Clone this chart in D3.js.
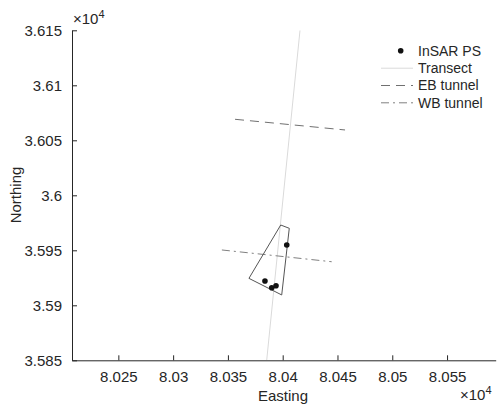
<!DOCTYPE html>
<html><head><meta charset="utf-8">
<script src="https://cdn.jsdelivr.net/npm/d3@7"></script>
<style>body{margin:0;background:#fff;} text{font-family:"Liberation Sans",Arial,sans-serif;fill:#262626;}</style>
</head><body><svg id="c" width="498" height="405"></svg>
<script>
const xTicks = [80250, 80300, 80350, 80400, 80450, 80500, 80550];
const xTickLabels = ["8.025","8.03","8.035","8.04","8.045","8.05","8.055"];
const yTicks = [35850, 35900, 35950, 36000, 36050, 36100, 36150];
const yTickLabels = ["3.585","3.59","3.595","3.6","3.605","3.61","3.615"];
const psE = [80403.7, 80383.8, 80390.0, 80393.9];
const psN = [35954.8, 35922.1, 35916.0, 35917.8];
const transectE = [80385.4, 80415.8];
const transectN = [35850, 36150];
const ebE = [80356.5, 80456.9];
const ebN = [36069.1, 36059.4];
const wbE = [80344.5, 80444.7];
const wbN = [35950.3, 35939.6];
const polyE = [80398.2, 80406.0, 80399.1, 80369.2, 80398.2];
const polyN = [35973.0, 35970.0, 35909.4, 35924.5, 35973.0];
const legendLabels = ["InSAR PS","Transect","EB tunnel","WB tunnel"];

const svg = d3.select("#c");
const x = d3.scaleLinear().domain([80207.7, 80594.4]).range([72, 495.7]);
const y = d3.scaleLinear().domain([35850, 36150]).range([360.3, 30.3]);

svg.append("defs").append("clipPath").attr("id","clip").append("rect")
  .attr("x",72).attr("y",30.3).attr("width",423.7).attr("height",330);
const g = svg.append("g").attr("clip-path","url(#clip)");
const line = d3.line().x(d=>x(d[0])).y(d=>y(d[1]));
const ebDash = "9,6", wbDash = "8,4,2,4";

g.append("path").datum(d3.zip(transectE, transectN)).attr("d", line)
  .attr("fill","none").attr("stroke","#dadada").attr("stroke-width",1);
g.append("path").datum(d3.zip(ebE, ebN)).attr("d", line)
  .attr("fill","none").attr("stroke","#707070").attr("stroke-width",1).attr("stroke-dasharray",ebDash);
g.append("path").datum(d3.zip(wbE, wbN)).attr("d", line)
  .attr("fill","none").attr("stroke","#808080").attr("stroke-width",1).attr("stroke-dasharray",wbDash);
g.append("path").datum(d3.zip(polyE, polyN)).attr("d", line)
  .attr("fill","none").attr("stroke","#555").attr("stroke-width",1);
g.selectAll("circle.ps").data(d3.zip(psE, psN)).enter().append("circle")
  .attr("cx",d=>x(d[0])).attr("cy",d=>y(d[1])).attr("r",2.8).attr("fill","#111");

// axes
const xa = svg.append("g").attr("transform","translate(0,360.3)")
  .call(d3.axisBottom(x).tickValues(xTicks).tickFormat((d,i)=>xTickLabels[i]).tickSizeInner(-5).tickSizeOuter(0).tickPadding(11));
const ya = svg.append("g").attr("transform","translate(72,0)")
  .call(d3.axisLeft(y).tickValues(yTicks).tickFormat((d,i)=>yTickLabels[i]).tickSizeInner(-5).tickSizeOuter(0).tickPadding(10));
[xa, ya].forEach(a=>{
  a.select(".domain").attr("stroke","#262626");
  a.selectAll(".tick line").attr("stroke","#262626");
  a.selectAll(".tick text").attr("font-size",15).attr("fill","#262626").style("font-family","Liberation Sans, Arial, sans-serif");
});

svg.append("text").attr("x",283).attr("y",401).attr("text-anchor","middle").attr("font-size",15).text("Easting");
svg.append("text").attr("transform","translate(21,195) rotate(-90)").attr("text-anchor","middle").attr("font-size",15).text("Northing");

function exp(xp, yp){
  const t = svg.append("text").attr("x",xp).attr("y",yp).attr("font-size",15);
  t.append("tspan").text("\u00d710");
  t.append("tspan").attr("dy",-6).attr("font-size",11).text("4");
}
exp(73, 24);
exp(460, 400);

// legend
const L = svg.append("g");
const ly = [50.7, 68.2, 85.5, 102.8];
L.append("circle").attr("cx",400.7).attr("cy",ly[0]).attr("r",2.8).attr("fill","#111");
L.append("line").attr("x1",381).attr("x2",413).attr("y1",ly[1]).attr("y2",ly[1]).attr("stroke","#dadada");
L.append("line").attr("x1",381).attr("x2",413).attr("y1",ly[2]).attr("y2",ly[2]).attr("stroke","#707070").attr("stroke-dasharray",ebDash);
L.append("line").attr("x1",381).attr("x2",413).attr("y1",ly[3]).attr("y2",ly[3]).attr("stroke","#808080").attr("stroke-dasharray",wbDash);
L.selectAll("text.lg").data(legendLabels).enter().append("text")
  .attr("x",418).attr("y",(d,i)=>ly[i]).attr("dy","0.35em").attr("font-size",14).text(d=>d);
</script></body></html>
